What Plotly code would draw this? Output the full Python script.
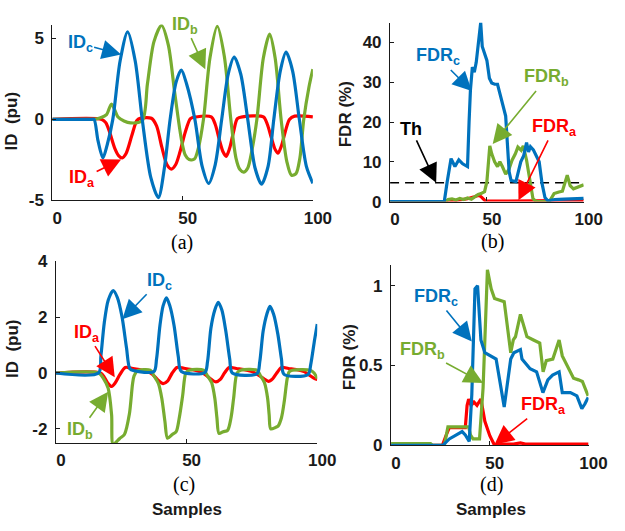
import plotly.graph_objects as go

# ---------------- data ----------------
# panel (a): ID (pu)
A_IDC_X = [0, 15, 16, 17.5, 19.4, 21, 23.2, 26, 28.9, 31.8, 34.5, 37.8, 40.7, 43, 45.2, 47.5, 49.5, 51.5, 54.7, 57.5, 60,
           62.5, 65, 67.5, 69.8, 72.3, 75, 77.8, 80.3, 82.8, 85, 87.5, 89.7, 92.2, 94.8, 97.5, 100]
A_IDC = [0, 0, 0, -1.3, -2.38, -1.6, 0, 3.6, 5.4, 3.6, 0, -3.6, -4.83, -3.0, 0, 2.3, 3.05, 2.2, 0, -2.9, -3.95,
         -2.8, 0, 2.8, 3.85, 2.8, 0, -3.0, -4.0, -2.9, 0, 3.0, 4.15, 3.0, 0, -2.9, -3.95]
A_IDB_X = [0, 15, 16, 18.5, 20.8, 22.7, 25.2, 27.5, 30, 34.5, 36.5, 39, 41.9, 44.5, 47, 49.5, 51, 52.5, 54.5, 56,
           58, 60.5, 63.3, 66, 68.5, 70.5, 72, 73.5, 75, 76.5, 78.5, 81, 83.4, 85.5, 87.8, 90, 91.8, 93.5, 95, 96.5,
           98.5, 100]
A_IDB = [0, 0, 0, 0.1, 0.3, 0.95, 0.15, -0.1, -0.22, -0.08, 2.2, 4.8, 5.8, 4.6, 1.6, -1.2, -2.2, -2.48, -2.45, -1.8,
         0, 3.8, 5.75, 3.9, 0, -2.4, -3.1, -3.25, -3.0, -2.0, 0, 3.8, 5.26, 3.8, 0, -2.6, -3.45, -3.35, -2.4, 0,
         2.0, 3.1]
A_IDA_X = [0, 19, 20.5, 22, 24, 25.5, 26.8, 28.3, 30.5, 32.5, 34, 38, 40, 42, 44, 45.7, 47.3, 49, 51, 53,
           55, 61, 62.5, 64, 65.5, 66.7, 68, 69.5, 71, 73, 81, 82.5, 84, 85.5, 86.6, 88, 89.5, 91, 93, 100]
A_IDA = [0, 0, -0.2, -0.8, -1.8, -2.25, -2.38, -2.1, -1.0, -0.05, 0.08, 0.07, -0.4, -1.7, -2.8, -3.07, -2.8, -2.0, -0.8, 0.05,
         0.15, 0.15, -0.3, -1.2, -2.0, -2.28, -1.8, -0.8, 0.05, 0.16, 0.16, -0.3, -1.1, -1.85, -2.09, -1.6, -0.7, 0.0, 0.2, 0.15]

# panel (b): FDR (%)
B_FDRC_X = [0, 28, 29.5, 31.5, 33.5, 35.5, 37.5, 40, 40.8, 41.5, 42.5, 43.5, 44.5, 45.5, 46.8, 47.6, 48.5, 50, 51.3, 52.5,
            54, 55.5, 56.8, 58, 59.7, 61.5, 62.5, 65, 66.3, 67.5, 69, 70.5, 71.5, 72.5, 74, 75.5, 77, 78.5, 80, 81.5,
            85, 90, 95, 100]
B_FDRC = [0, 0, 5, 10.8, 8.8, 10.5, 9.5, 8.8, 20, 28, 33.8, 32.5, 35, 40, 45, 39, 37.5, 35.5, 31, 29.8,
          29.5, 29.5, 27, 25, 21.5, 7.5, 5.3, 5.0, 7.5, 10, 11.5, 14.8, 12.5, 13.8, 13, 11.5, 10, 4.5, 1, 0.2,
          0.5, 0.6, 0.7, 0.8]
B_FDRB_X = [0, 28.8, 30, 32, 34, 36, 38, 40, 42, 44, 45.5, 47, 48.8, 50, 51.5, 52.5, 54, 55.5, 56.7, 58,
            59.7, 61.3, 63, 64.7, 66, 67.7, 68.8, 70.5, 72.2, 73.8, 75.5, 80, 82.5, 84.7, 87.2, 89, 91.5, 93, 94.7, 97.2,
            100]
B_FDRB = [0, 0, 0.5, 0.7, 0.4, 0.8, 0.5, 0.9, 0.6, 1.2, 1.8, 2.0, 2.5, 5, 14, 12, 10, 8.8, 10, 8.8,
          6.9, 8, 10.4, 12, 13.7, 12.9, 14, 10.4, 4.8, 0.7, 0, 0, 0.2, 2, 2.4, 2.6, 6.6, 4, 3.2, 3.6,
          4.2]
B_FDRA_X = [0, 30, 33, 36.5, 40, 43.5, 46, 47.5, 49.3, 55, 65, 75, 85, 100]
B_FDRA = [0, 0, 0.2, 0.4, 0.7, 1.2, 1.6, 1.0, 0.1, 0.1, 0.15, 0.2, 0.2, 0.3]
B_TH = 4.7

# panel (c): ID (pu)
C_IDC_X = [0, 16.3, 17.2, 18.5, 20, 21.9, 23.5, 25.3, 27, 28.3, 30, 37.5, 38.5, 39.8, 41, 42.3, 43.6, 45.2, 46.8, 48,
           57, 58, 59.3, 60.8, 62.1, 63.5, 65, 66.5, 67.5, 77, 78, 79.3, 80.7, 81.9, 83.3, 84.9, 86.3, 87.3, 96.5, 97.5,
           99, 100]
C_IDC = [0, 0, 0.6, 1.8, 2.6, 2.95, 2.7, 2.0, 0.9, 0.15, 0.08, 0.05, 0.5, 1.7, 2.4, 2.69, 2.4, 1.7, 0.6, 0.05,
         0.02, 0.4, 1.6, 2.25, 2.53, 2.25, 1.5, 0.5, 0.0, -0.02, 0.4, 1.5, 2.1, 2.38, 2.1, 1.4, 0.5, -0.05, -0.05, 0.3,
         1.2, 1.75]
C_IDA_X = [0, 17, 18.5, 20, 21.3, 22.7, 24.5, 26.5, 29, 32, 35, 37, 39, 41, 42.8, 44.5, 46.3, 49, 52, 55,
           57, 59.3, 61.2, 63, 64.5, 66.3, 69, 72, 75, 77, 79.5, 81.3, 83, 84.5, 86.3, 89, 92, 95, 97, 99, 100]
C_IDA = [0, 0, -0.15, -0.38, -0.48, -0.35, -0.05, 0.2, 0.17, 0.12, 0.05, -0.05, -0.25, -0.38, -0.28, 0.0, 0.2, 0.17, 0.12, 0.05,
         -0.05, -0.22, -0.32, -0.22, 0.0, 0.2, 0.16, 0.12, 0.05, -0.05, -0.2, -0.3, -0.2, 0.0, 0.2, 0.16, 0.12, 0.05, -0.08, -0.2, -0.23]
C_IDB_X = [0, 16.3, 18.2, 20, 21.3, 21.9, 24.4, 26.2, 28.1, 29.3, 29.9, 31.2, 36.1,
           37.5, 39.2, 40.5, 41.7, 42.7, 44.5, 46, 47.2, 48.5, 49.7, 51, 56.5,
           58, 59.6, 60.8, 61.6, 62.4, 64, 65.7, 67, 68, 69.3, 70.7, 76.9,
           78.3, 79.8, 81, 81.6, 82.2, 84, 85, 86.3, 87.4, 88.5, 89.3, 90.5, 97.3, 98.8, 100]
C_IDB = [0, 0, -0.2, -0.55, -1.5, -2.55, -2.34, -2.2, -1.47, -0.4, -0.1, 0.08, 0.1,
         -0.1, -0.37, -0.9, -1.73, -2.33, -2.2, -2.1, -1.6, -0.8, 0.0, 0.1, 0.1,
         -0.1, -0.35, -0.9, -1.6, -2.16, -2.1, -2.05, -1.6, -0.9, 0.0, 0.1, 0.1,
         -0.1, -0.35, -0.9, -1.5, -2.0, -1.95, -1.9, -1.6, -1.0, -0.2, 0.05, 0.1, 0.1, 0.0, -0.2]

# panel (d): FDR (%)
D_FDRC_X = [0, 26.2, 29.5, 32.7, 36, 37.6, 39.6, 40.9, 42.5, 43.8, 45.5, 47.5, 50.7, 53.2, 57.3, 60.6, 62.2, 65.5, 66.3, 70.4,
            73.7, 76.9, 79.4, 81.8, 85.1, 86.7, 90.8, 94.1, 96.6, 98.2, 99.8]
D_FDRC = [0, 0, 0.04, 0.065, 0.086, 0.065, 0.025, 0.32, 0.98, 1.0, 0.66, 0.58, 0.56, 0.54, 0.24, 0.54, 0.58, 0.6, 0.54, 0.48,
          0.46, 0.33, 0.41, 0.44, 0.46, 0.33, 0.33, 0.31, 0.23, 0.26, 0.3]
D_FDRB_X = [0, 20, 21, 27, 28.8, 39.3, 40.2, 41.5, 44.8, 46.6, 47.8, 48.8, 50.7, 52.4, 57.3, 58.9, 60.6, 61.9, 63, 65.5,
            68.8, 72.1, 75.3, 77, 78.6, 81.9, 85.1, 86.7, 90, 92.4, 94.9, 96.9, 99.8]
D_FDRB = [0.01, 0.01, 0, 0, 0.116, 0.116, 0.065, 0.04, 0.04, 0.36, 0.76, 1.1, 0.98, 0.92, 0.9, 0.76, 0.58, 0.66, 0.68, 0.82,
          0.68, 0.66, 0.64, 0.46, 0.53, 0.54, 0.66, 0.56, 0.48, 0.42, 0.41, 0.4, 0.31]
D_FDRA_X = [0, 26, 27.8, 29.5, 37.6, 38.5, 39.3, 40.5, 42, 43.5, 45.5, 47.5, 50, 52.4, 55, 62, 65.5, 68, 75, 85, 100]
D_FDRA = [0, 0, 0.06, 0.11, 0.11, 0.25, 0.29, 0.25, 0.27, 0.25, 0.29, 0.15, 0.06, 0.0, 0.008, 0.008, 0.015, 0.008, 0.008, 0.008, 0.008]

X_TICKS = [0, 50, 100]
A_YTICKS = [-5, 0, 5]
B_YTICKS = [0, 10, 20, 30, 40]
C_YTICKS = [-2, 0, 2, 4]
D_YTICKS = [0, 0.5, 1]
D_YTICKTEXT = ['0', '0.5', '1']

# ---------------- styling ----------------
W, H = 625, 531
BLUE, GREEN, RED = '#0072BD', '#77AC30', '#FF0000'
INK = '#1a1a1a'
SANS = 'Liberation Sans, Arial, sans-serif'
SERIF = 'Liberation Serif, Times New Roman, serif'


def fx(p):
    return p / W


def fy(p):
    return 1 - p / H


fig = go.Figure()


def add(xs, ys, color, n, shape='linear', width=3.2, dash=None):
    fig.add_trace(go.Scatter(
        x=xs, y=ys, mode='lines',
        line=dict(color=color, width=width, shape=shape, smoothing=0.8, dash=dash),
        xaxis='x' if n == 1 else f'x{n}', yaxis='y' if n == 1 else f'y{n}',
        showlegend=False, hoverinfo='skip'))


add(A_IDA_X, A_IDA, RED, 1, 'spline')
add(A_IDB_X, A_IDB, GREEN, 1, 'spline')
add(A_IDC_X, A_IDC, BLUE, 1, 'spline')

add([X_TICKS[0], X_TICKS[-1]], [B_TH, B_TH], 'black', 2, width=1.5, dash='9px,6px')
add(B_FDRA_X, B_FDRA, RED, 2)
add(B_FDRB_X, B_FDRB, GREEN, 2)
add(B_FDRC_X, B_FDRC, BLUE, 2)

add(C_IDA_X, C_IDA, RED, 3, 'spline')
add(C_IDB_X, C_IDB, GREEN, 3, 'spline')
add(C_IDC_X, C_IDC, BLUE, 3, 'spline')

add(D_FDRA_X, D_FDRA, RED, 4)
add(D_FDRB_X, D_FDRB, GREEN, 4)
add(D_FDRC_X, D_FDRC, BLUE, 4)


def axis(domain, rng, tickvals, anchor, ticktext=None, is_x=True):
    d = dict(domain=domain, range=rng, anchor=anchor, tickvals=tickvals,
             ticktext=ticktext if ticktext else [str(v) for v in tickvals],
             showline=True, linecolor=INK, linewidth=1.2, mirror=False,
             ticks='inside', ticklen=4, tickwidth=1, tickcolor=INK,
             showgrid=False, zeroline=False, fixedrange=True,
             tickfont=dict(family=SANS, size=17, color=INK, weight='bold'))
    if is_x:
        d['ticklabelshift'] = 5
        d['ticklabelstandoff'] = 2
    else:
        d['ticklabelstandoff'] = 4
    return d


# pixel extents of each panel (left, right, top, bottom)
PA = (54, 322.7, 16.2, 198.5)
PB = (402.3, 602, 14.1, 199.7)
PC = (57.7, 327.2, 261.5, 450)
PD = (403.3, 607, 265.4, 452.5)


def dom(p):
    return [fx(p[0]), fx(p[1])], [fy(p[3]), fy(p[2])]


da, ea = dom(PA)
db, eb = dom(PB)
dc, ec = dom(PC)
dd, ed = dom(PD)

fig.update_layout(
    width=W, height=H, margin=dict(l=0, r=0, t=0, b=0),
    paper_bgcolor='white', plot_bgcolor='white',
    xaxis=axis(da, [0, 100], X_TICKS, 'y'),
    yaxis=axis(ea, [-5, 5.85], A_YTICKS, 'x', is_x=False),
    xaxis2=axis(db, [0, 100], X_TICKS, 'y2'),
    yaxis2=axis(eb, [0, 45], B_YTICKS, 'x2', is_x=False),
    xaxis3=axis(dc, [0, 100], X_TICKS, 'y3'),
    yaxis3=axis(ec, [-2.5, 4], C_YTICKS, 'x3', is_x=False),
    xaxis4=axis(dd, [0, 100], X_TICKS, 'y4'),
    yaxis4=axis(ed, [0, 1.13], D_YTICKS, 'x4', ticktext=D_YTICKTEXT, is_x=False),
)

ann = []


def text(s, x, y, color, size=18, family=SANS, bold=True, angle=0):
    ann.append(dict(text=s, x=fx(x), y=fy(y), xref='paper', yref='paper', showarrow=False,
                    xanchor='center', yanchor='middle', textangle=angle,
                    font=dict(family=family, size=size, color=color, weight='bold' if bold else 'normal')))


def label(n, s, hx, hy, ax, ay, color):
    """Curve label with an arrow whose head sits on the curve (data coords);
    ax, ay: pixel offset of the label centre from the arrow head."""
    ann.append(dict(text=s, x=hx, y=hy, xref='x' if n == 1 else f'x{n}', yref='y' if n == 1 else f'y{n}',
                    showarrow=True, ax=ax, ay=ay, axref='pixel', ayref='pixel',
                    arrowhead=2, arrowsize=2.4, arrowwidth=1.6, arrowcolor=color, standoff=0,
                    font=dict(family=SANS, size=18, color=color, weight='bold')))


# panel (a)
label(1, 'ID<sub>c</sub>', 26.4, 4.0, -41, -11, BLUE)
label(1, 'ID<sub>b</sub>', 58.7, 3.1, -20, -44, GREEN)
label(1, 'ID<sub>a</sub>', 26.4, -2.48, -39, 19, RED)
# panel (b)
label(2, 'Th', 23.8, B_TH, -25, -54, 'black')
label(2, 'FDR<sub>c</sub>', 42.2, 27.8, -34, -34, BLUE)
label(2, 'FDR<sub>b</sub>', 53, 14.5, 54, -66, GREEN)
label(2, 'FDR<sub>a</sub>', 66.3, 0.3, 36, -73, RED)
# panel (c)
label(3, 'ID<sub>c</sub>', 25.4, 1.92, 37, -38, BLUE)
label(3, 'ID<sub>a</sub>', 22.5, -0.15, -28, -44, RED)
label(3, 'ID<sub>b</sub>', 20, -0.67, -28, 39, GREEN)
# panel (d)
label(4, 'FDR<sub>c</sub>', 40.9, 0.65, -36, -44, BLUE)
label(4, 'FDR<sub>b</sub>', 46.6, 0.39, -61, -33, GREEN)
label(4, 'FDR<sub>a</sub>', 52.4, 0.005, 49, -39, RED)

# axis titles and captions
text('ID&nbsp;&nbsp;(pu)', 12, 116, INK, size=17, angle=-90)
text('FDR (%)', 356, 109, INK, size=17, angle=-90)
text('ID&nbsp;&nbsp;(pu)', 13, 352, INK, size=17, angle=-90)
text('FDR (%)', 360, 361, INK, size=17, angle=-90)
text('(a)', 188, 242, 'black', size=20, family=SERIF, bold=False)
text('(b)', 508, 241, 'black', size=20, family=SERIF, bold=False)
text('(c)', 190, 493, 'black', size=20, family=SERIF, bold=False)
text('(d)', 507, 493, 'black', size=20, family=SERIF, bold=False)
text('Samples', 193, 519, INK, size=17)
text('Samples', 506, 519, INK, size=17)

fig.update_layout(annotations=ann)
fig.write_html('out.html')
